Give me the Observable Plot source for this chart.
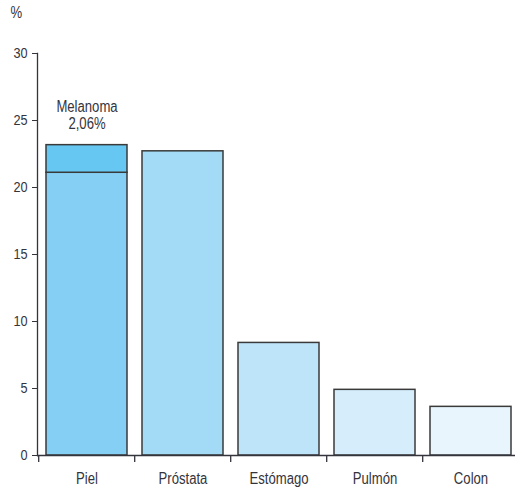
<!DOCTYPE html>
<html>
<head>
<meta charset="utf-8">
<script src="https://cdn.jsdelivr.net/npm/d3@7"></script>
<script src="https://cdn.jsdelivr.net/npm/@observablehq/plot@0.6"></script>
<style>
  body { margin: 0; background: #fff; }
  #chart svg { display: block; }
</style>
</head>
<body>
<div id="chart"></div>
<script>
// Cancer sites and their share (%)
const categories = ["Piel", "Próstata", "Estómago", "Pulmón", "Colon"];
const baseValues = [21.1, 22.7, 8.4, 4.9, 3.63];   // Piel without melanoma
const melanomaValue = 2.06;                          // stacked on top of Piel
const barColors = ["#84cff3", "#a3daf6", "#bee4f9", "#d6edfb", "#e8f5fd"];
const melanomaColor = "#66c8f2";
const yTicks = [0, 5, 10, 15, 20, 25, 30];
const melanomaLabel = "Melanoma\n2,06%";

const width = 515, height = 488;
const marginLeft = 37, marginTop = 53, marginBottom = 33;
const xRange = [marginLeft, 520];
const step = (xRange[1] - xRange[0]) / categories.length;
const ink = "#34343c";
const font = "'Liberation Sans', Arial, sans-serif";
const narrow = 0.82; // horizontal squeeze giving a condensed face

const segments = categories.map((c, i) => ({ category: c, y1: 0, y2: baseValues[i], fill: barColors[i] }));
segments.push({ category: categories[0], y1: baseValues[0], y2: baseValues[0] + melanomaValue, fill: melanomaColor });

const chart = Plot.plot({
  width, height,
  marginLeft, marginTop, marginBottom, marginRight: 0,
  style: { fontFamily: font, fontSize: "16px", color: ink, background: "#fff" },
  x: { domain: categories, range: xRange, padding: 0.16, paddingOuter: 0.08, label: null },
  y: { domain: [0, 30], label: null },
  marks: [
    Plot.barY(segments, {
      x: "category", y1: "y1", y2: "y2", fill: "fill",
      stroke: "#3a3a3a", strokeWidth: 1.5
    }),
    // axes
    Plot.axisY({ ticks: yTicks, tickSize: 5, tickPadding: 5, fontSize: 15.5, stroke: ink, label: null }),
    Plot.axisX({ tickSize: 0, tickPadding: 17.5, fontSize: 16, label: null }),
    Plot.frame({ anchor: "left", stroke: ink, strokeWidth: 1.3 }),
    Plot.ruleY([0], { stroke: ink, strokeWidth: 1.3 }),
    // small ticks at the band boundaries below the baseline
    Plot.ruleX(categories, { x: d => d, dx: -step / 2, y1: 0, y2: 0, insetBottom: -7, stroke: ink, strokeWidth: 1.3 }),
    // melanoma annotation
    Plot.text([categories[0]], {
      x: d => d, y: () => baseValues[0] + melanomaValue,
      text: () => melanomaLabel, lineAnchor: "bottom", lineHeight: 1.05,
      dy: -16, fontSize: 16, fill: ink
    }),
    // unit label
    Plot.text(["%"], { frameAnchor: "top-left", text: d => d, textAnchor: "start", dx: 10 - marginLeft, dy: 6 - marginTop, lineAnchor: "top", fontSize: 16, fill: ink })
  ]
});

// Condense every label horizontally around its own anchor point
chart.querySelectorAll("text").forEach(t => {
  const x = parseFloat(t.getAttribute("x") || "0");
  const tr = t.getAttribute("transform") || "";
  t.setAttribute("transform", `${tr} translate(${x},0) scale(${narrow},1) translate(${-x},0)`.trim());
});

document.getElementById("chart").appendChild(chart);
</script>
</body>
</html>
